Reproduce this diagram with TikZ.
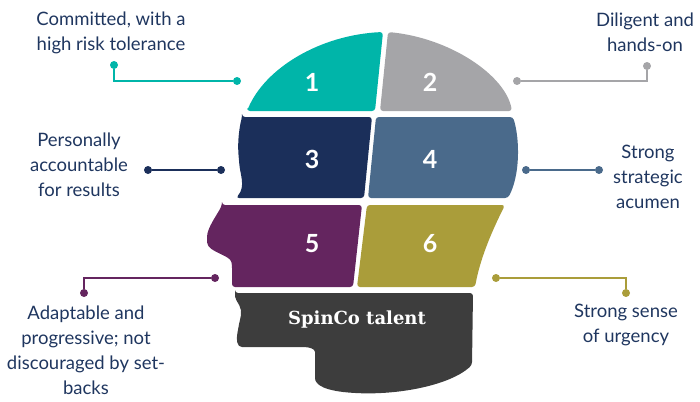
\documentclass[tikz,border=0pt]{standalone}
\usepackage{fontspec}
\setmainfont{Lato}
\newfontfamily\slabfont{DejaVu Serif}
\usetikzlibrary{shapes,arrows}
\definecolor{tealseg}{HTML}{00B5A9}
\definecolor{grayseg}{HTML}{A5A5A8}
\definecolor{navyseg}{HTML}{1B2F5A}
\definecolor{steelseg}{HTML}{4A6A8B}
\definecolor{plumseg}{HTML}{64255F}
\definecolor{oliveseg}{HTML}{AA9D3A}
\definecolor{darkseg}{HTML}{3D3D3D}
\definecolor{labelblue}{HTML}{1F365F}
\tikzstyle{headpart} = [rounded corners=3pt]
\tikzstyle{number} = [text=white, font=\fontsize{25}{25}\selectfont\bfseries]
\tikzstyle{trait} = [text=labelblue, align=center, font=\fontsize{18.5}{25}\selectfont]
\tikzstyle{dot} = [circle, inner sep=0pt, minimum size=8pt]
\tikzstyle{line} = [draw, line width=2.5pt]

\begin{document}
\begin{tikzpicture}[x=1pt, y=-1pt]
	\useasboundingbox (0,0) rectangle (700,401);

	% head
	\fill [headpart, tealseg] (247,111) -- (375,111) -- (383,32)
		.. controls (320,35) and (265,68) .. (247,111) -- cycle;
	\fill [headpart, grayseg] (388,32) .. controls (450,38) and (505,75) .. (512,111)
		-- (380,111) -- cycle;
	\fill [headpart, navyseg] (242,117) -- (372,117) -- (364,198) -- (236,198)
		.. controls (246,186) and (240,175) .. (239,160)
		.. controls (237,140) and (240,125) .. (242,117) -- cycle;
	\fill [headpart, steelseg] (376,117) -- (513,117)
		.. controls (520,140) and (520,175) .. (508,198) -- (368,198) -- cycle;
	\fill [headpart, plumseg] (222,205) -- (362,205) -- (353,287) -- (232,287) -- (232,265)
		.. controls (230,255) and (208,252) .. (207,240)
		.. controls (207,228) and (217,215) .. (222,205) -- cycle;
	\fill [headpart, oliveseg] (367,205) -- (505,205)
		.. controls (490,235) and (480,260) .. (475,287) -- (357,287) -- cycle;
	\fill [headpart, darkseg] (235,293) -- (473,293) -- (472,365)
		.. controls (450,385) and (400,395) .. (355,393)
		.. controls (325,391) and (315,385) .. (315,375) -- (315,355)
		.. controls (315,349) and (310,347) .. (300,347) -- (245,347)
		.. controls (237,347) and (236,340) .. (238,330)
		.. controls (240,318) and (243,312) .. (238,303)
		.. controls (235,298) and (235,295) .. (235,293) -- cycle;

	\node [number] (n1) at (312,82) {1};
	\node [number] (n2) at (430,82) {2};
	\node [number] (n3) at (312,159) {3};
	\node [number] (n4) at (430,159) {4};
	\node [number] (n5) at (312,244) {5};
	\node [number] (n6) at (430,244) {6};
	\node [text=white, font=\slabfont\fontsize{18}{18}\selectfont\bfseries] (talent) at (357,320) {SpinCo talent};

	% traits
	\node [trait] (committed) at (111,33) {Committed, with a\\high risk tolerance};
	\node [trait] (diligent) at (645,32) {Diligent and\\hands-on};
	\node [trait] (accountable) at (79,165) {Personally\\accountable\\for results};
	\node [trait] (strategic) at (648,177) {Strong\\strategic\\acumen};
	\node [trait] (adaptable) at (86,350) {Adaptable and\\progressive; not\\discouraged by set-\\backs};
	\node [trait] (urgency) at (626,325) {Strong sense\\of urgency};

	% connectors
	\node [dot, fill=tealseg] (c1a) at (114,65) {};
	\node [dot, fill=tealseg] (c1b) at (237,81) {};
	\path [line, tealseg] (c1a) |- (c1b);

	\node [dot, fill=grayseg] (c2a) at (647,66) {};
	\node [dot, fill=grayseg] (c2b) at (517,81) {};
	\path [line, grayseg] (c2a) |- (c2b);

	\node [dot, fill=navyseg] (c3a) at (148,170) {};
	\node [dot, fill=navyseg] (c3b) at (221,170) {};
	\path [line, navyseg] (c3a) -- (c3b);

	\node [dot, fill=steelseg] (c4a) at (599,170) {};
	\node [dot, fill=steelseg] (c4b) at (526,170) {};
	\path [line, steelseg] (c4a) -- (c4b);

	\node [dot, fill=plumseg] (c5a) at (84,293) {};
	\node [dot, fill=plumseg] (c5b) at (215,278) {};
	\path [line, plumseg] (c5a) |- (c5b);

	\node [dot, fill=oliveseg] (c6a) at (626,293) {};
	\node [dot, fill=oliveseg] (c6b) at (496,278) {};
	\path [line, oliveseg] (c6a) |- (c6b);
\end{tikzpicture}
\end{document}
